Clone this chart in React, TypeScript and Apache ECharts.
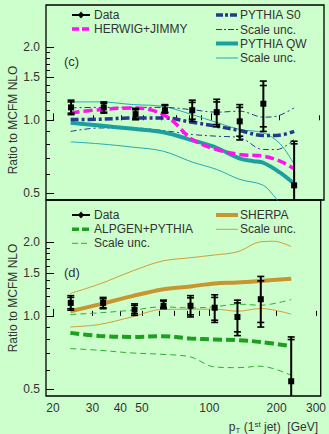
import React, { useEffect, useRef } from "react";
import * as echarts from "echarts";

// ---- data ----
const DATA_X = [24, 33.5, 46.3, 62.4, 82.4, 105.7, 133.6, 169.9, 232.4];
const DATA_Y = [1.13, 1.13, 1.06, 1.1, 1.1, 1.08, 0.99, 1.17, 0.54];
const DATA_LO = [1.055, 1.07, 1.005, 1.07, 0.99, 0.94, 0.83, 0.9, 0.44];
const DATA_HI = [1.21, 1.19, 1.12, 1.16, 1.21, 1.22, 1.16, 1.45, 0.82];
const DATA_LO2 = [1.07, 1.08, 1.02, 1.08, 1.01, 0.96, 0.86, 0.94, 0.4];
const DATA_HI2 = [1.19, 1.175, 1.105, 1.15, 1.185, 1.19, 1.13, 1.39, 0.8];

const S0_X = [23.9, 32.2, 45.2, 61.4, 82.4, 105.6, 133.9, 169.9, 194.8, 232.5];
const S0_Y = [1.007, 1.01, 1.023, 1.023, 0.981, 0.945, 0.907, 0.866, 0.866, 0.901];
const S0_UP = [1.125, 1.13, 1.13, 1.13, 1.105, 1.08, 1.09, 1.03, 1.04, 1.125];
const S0_LO = [0.9, 0.93, 0.93, 0.907, 0.874, 0.86, 0.847, 0.758, 0.758, 0.834];

const QW_X = [23.9, 32.2, 45.2, 61.4, 82.4, 105.6, 133.9, 153.4, 169.9, 201.6, 232.5];
const QW_Y = [0.976, 0.951, 0.922, 0.893, 0.828, 0.771, 0.695, 0.679, 0.669, 0.609, 0.548];
const QWU_X = [23.9, 32.2, 45.2, 61.4, 82.4, 105.6, 133.9, 169.9, 201.6, 232.5];
const QW_UP = [1.19, 1.19, 1.16, 1.14, 1.055, 0.98, 0.916, 0.888, 0.8, 0.659];
const QWL_X = [23.9, 32.2, 45.2, 61.4, 82.4, 105.6, 133.9, 169.9, 194.8, 215];
const QW_LO = [0.815, 0.8, 0.775, 0.746, 0.673, 0.628, 0.571, 0.54, 0.473, 0.43];

const HJ_X = [23.9, 32.2, 45.2, 53.6, 61.4, 67.9, 82.4, 105.6, 133.9, 169.9, 201.6, 232.5];
const HJ_Y = [1.072, 1.106, 1.124, 1.106, 1.055, 0.99, 0.834, 0.758, 0.723, 0.712, 0.679, 0.632];

const D_X = [23.9, 32.2, 45.2, 61.4, 82.4, 105.6, 133.9, 169.9, 232.5];
const SH_Y = [1.045, 1.114, 1.204, 1.283, 1.32, 1.358, 1.37, 1.39, 1.42];
const SHU_X = [23.9, 32.2, 45.2, 61.4, 82.4, 105.6, 133.9, 169.9, 194.8, 232.5];
const SH_UP = [1.235, 1.349, 1.525, 1.675, 1.73, 1.775, 1.83, 2.01, 2.02, 1.92];
const SH_LO = [0.901, 0.922, 0.991, 1.062, 1.065, 1.065, 1.045, 1.072, 1.016];
const AL_Y = [0.852, 0.828, 0.82, 0.826, 0.808, 0.8, 0.795, 0.782, 0.751];
const AL_UP = [1.013, 1.029, 1.055, 1.089, 1.078, 1.089, 1.117, 1.106, 1.167];
const AL_LO = [0.735, 0.723, 0.705, 0.696, 0.679, 0.618, 0.614, 0.622, 0.571];

const X_MINOR_TICKS = [30, 40, 50, 60, 70, 80, 90, 200, 300];
const X_MAJOR_TICKS = [20, 100];
const X_LABELS = [20, 30, 40, 50, 100, 200, 300];
const Y_MINOR_TICKS = [0.6, 0.7, 0.8, 0.9, 1.1, 1.2, 1.3, 1.4, 1.6, 1.7, 1.8, 1.9];
const Y_MAJOR_TICKS = [0.5, 1.0, 1.5, 2.0];

const X_MIN = 18.6;
const X_MAX = 315;
const Y_MIN = 0.47;
const Y_MAX = 2.98;

const lg = (v: number) => Math.log10(v);
const pts = (xs: number[], ys: number[]) => xs.map((x, i) => [lg(x), lg(ys[i])]);

const FONT = "Liberation Sans, Arial, Helvetica, sans-serif";
const TXT = "#333";
const BG = "#ccffcc";
const NAVY = "#27388a";
const TEAL = "#1c9f9f";
const TEAL_THIN = "#25a9b0";
const MAGENTA = "#ff12ee";
const GOLD = "#c99530";
const GOLD_THIN = "#d39c35";
const GREEN = "#1f9f1f";
const GREEN_THIN = "#2fae2f";

export default function App() {
  const ref = useRef<HTMLDivElement>(null);
  useEffect(() => {
    if (!ref.current) return;
    const chart = echarts.init(ref.current, null, { renderer: "svg" });

    const grids = [
      { left: 46, top: 5, right: 5, height: 195 },
      { left: 46, top: 200, right: 5, height: 196 },
    ].map((g) => ({ ...g, show: true, borderColor: "#000", borderWidth: 1.3, backgroundColor: "transparent" }));

    const xAxes: any[] = [];
    const yAxes: any[] = [];
    [0, 1].forEach((gi) => {
      xAxes.push({
        type: "value", gridIndex: gi, position: "bottom", min: lg(X_MIN), max: lg(X_MAX),
        splitLine: { show: false }, axisLine: { show: false },
        axisTick: { show: true, inside: true, length: 5, customValues: X_MINOR_TICKS.map(lg), lineStyle: { color: "#000", width: 1 } },
        axisLabel: gi === 1 ? {
          show: true, customValues: X_LABELS.map(lg), margin: 6, color: TXT, fontSize: 12, fontFamily: FONT,
          formatter: (v: number) => String(Math.round(Math.pow(10, v))),
        } : { show: false },
      });
      xAxes.push({
        type: "value", gridIndex: gi, position: "bottom", min: lg(X_MIN), max: lg(X_MAX),
        splitLine: { show: false }, axisLine: { show: false },
        axisTick: { show: true, inside: true, length: 7, customValues: X_MAJOR_TICKS.map(lg), lineStyle: { color: "#000", width: 1 } },
        axisLabel: { show: false },
      });
      yAxes.push({
        type: "value", gridIndex: gi, position: "left", min: lg(Y_MIN), max: lg(Y_MAX),
        splitLine: { show: false }, axisLine: { show: false },
        axisTick: { show: true, inside: true, length: 4, customValues: Y_MINOR_TICKS.map(lg), lineStyle: { color: "#000", width: 1 } },
        axisLabel: { show: false },
      });
      yAxes.push({
        type: "value", gridIndex: gi, position: "left", min: lg(Y_MIN), max: lg(Y_MAX),
        splitLine: { show: false }, axisLine: { show: false },
        axisTick: { show: true, inside: true, length: 8, customValues: Y_MAJOR_TICKS.map(lg), lineStyle: { color: "#000", width: 1 } },
        axisLabel: {
          show: true, customValues: Y_MAJOR_TICKS.map(lg), margin: 6, color: TXT, fontSize: 12, fontFamily: FONT,
          formatter: (v: number) => Math.pow(10, v).toFixed(1),
        },
      });
    });

    const line = (gi: number, xs: number[], ys: number[], color: string, width: number, type: any, z = 2) => ({
      type: "line", xAxisIndex: gi * 2, yAxisIndex: gi * 2, data: pts(xs, ys),
      showSymbol: false, symbol: "none", smooth: 0.35, clip: true, z,
      lineStyle: { color, width, type },
    });

    const dataSeries = (gi: number) => ({
      type: "custom", xAxisIndex: gi * 2, yAxisIndex: gi * 2, z: 10, clip: true,
      data: DATA_X.map((x, i) => [lg(x), lg(DATA_Y[i]), lg(DATA_LO[i]), lg(DATA_HI[i]), lg(DATA_LO2[i]), lg(DATA_HI2[i])]),
      renderItem: (params: any, api: any) => {
        const cs = params.coordSys;
        const top = cs.y, bot = cs.y + cs.height;
        const p = api.coord([api.value(0), api.value(1)]);
        const x = p[0];
        const yv = (k: number) => api.coord([api.value(0), api.value(k)])[1];
        const yHi = yv(3), yLo = yv(2), yHi2 = yv(5), yLo2 = yv(4);
        const cl = (y: number) => Math.min(bot, Math.max(top, y));
        const st = { stroke: "#000", lineWidth: 1.6 };
        const children: any[] = [
          { type: "line", shape: { x1: x, y1: cl(yHi), x2: x, y2: cl(yLo) }, style: { stroke: "#000", lineWidth: 2 } },
        ];
        [yHi, yLo, yHi2, yLo2].forEach((y) => {
          if (y >= top && y <= bot) children.push({ type: "line", shape: { x1: x - 3.5, y1: y, x2: x + 3.5, y2: y }, style: st });
        });
        if (p[1] >= top && p[1] <= bot) children.push({ type: "rect", shape: { x: x - 3, y: p[1] - 3, width: 6, height: 6 }, style: { fill: "#000" } });
        return { type: "group", children };
      },
    });

    const series: any[] = [
      // panel (c)
      line(0, QWL_X, QW_LO, TEAL_THIN, 1, "solid"),
      line(0, QWU_X, QW_UP, TEAL_THIN, 1, "solid"),
      line(0, S0_X, S0_UP, NAVY, 1, [6, 3, 2, 3]),
      line(0, S0_X, S0_LO, NAVY, 1, [6, 3, 2, 3]),
      line(0, QW_X, QW_Y, TEAL, 4, "solid", 3),
      line(0, S0_X, S0_Y, NAVY, 3.5, [8, 3, 3, 3], 3),
      line(0, HJ_X, HJ_Y, MAGENTA, 3.5, [9, 4], 4),
      dataSeries(0),
      // panel (d)
      line(1, SHU_X, SH_UP, GOLD_THIN, 1, "solid"),
      line(1, D_X, SH_LO, GOLD_THIN, 1, "solid"),
      line(1, D_X, AL_UP, GREEN_THIN, 1, [6, 4]),
      line(1, D_X, AL_LO, GREEN_THIN, 1, [6, 4]),
      line(1, D_X, SH_Y, GOLD, 4, "solid", 3),
      line(1, D_X, AL_Y, GREEN, 4, [9, 4], 3),
      dataSeries(1),
    ];

    const txt = (x: number, y: number, text: string, size = 12) => ({
      type: "text", x, y, style: { text, fill: TXT, font: `${size}px ${FONT}`, textVerticalAlign: "middle", verticalAlign: "middle" },
    });
    const lg_line = (x1: number, x2: number, y: number, stroke: string, lineWidth: number, lineDash?: number[]) => ({
      type: "line", shape: { x1, y1: y, x2, y2: y }, style: { stroke, lineWidth, lineDash },
    });
    const dataIcon = (y: number) => [
      lg_line(72, 90, y, "#000", 2),
      { type: "polygon", shape: { points: [[81, y - 3.5], [84, y], [81, y + 3.5], [78, y]] }, style: { fill: "#000" } },
    ];

    const graphic: any[] = [
      // panel c legend
      ...dataIcon(15), txt(94, 15, "Data"),
      lg_line(72, 90, 29, MAGENTA, 3.5, [7, 3]), txt(94, 29, "HERWIG+JIMMY"),
      lg_line(216, 238, 15, NAVY, 3.5, [7, 2, 3, 2]), txt(240, 15, "PYTHIA S0"),
      lg_line(216, 238, 29.5, NAVY, 1, [6, 2, 2, 2]), txt(240, 29.5, "Scale unc."),
      lg_line(216, 238, 43.5, TEAL, 4), txt(240, 43.5, "PYTHIA QW"),
      lg_line(216, 238, 58, TEAL_THIN, 1), txt(240, 58, "Scale unc."),
      txt(64, 61, "(c)", 13),
      // panel d legend
      ...dataIcon(215), txt(94, 215, "Data"),
      lg_line(72, 90, 229.3, GREEN, 3.5, [7, 3]), txt(94, 229.3, "ALPGEN+PYTHIA"),
      lg_line(72, 90, 243.3, GREEN_THIN, 1, [6, 3]), txt(94, 243.3, "Scale unc."),
      lg_line(216, 238, 215, GOLD, 4), txt(240, 215, "SHERPA"),
      lg_line(216, 238, 229.3, GOLD_THIN, 1), txt(240, 229.3, "Scale unc."),
      txt(64, 272, "(d)", 13),
      // y titles
      {
        type: "text", x: 13, y: 120, rotation: Math.PI / 2,
        style: { text: "Ratio to MCFM NLO", fill: TXT, font: `12px ${FONT}`, align: "center", verticalAlign: "middle" },
      },
      {
        type: "text", x: 13, y: 298, rotation: Math.PI / 2,
        style: { text: "Ratio to MCFM NLO", fill: TXT, font: `12px ${FONT}`, align: "center", verticalAlign: "middle" },
      },
      // x title
      {
        type: "text", x: 318, y: 427,
        style: {
          text: "p{sub|T} (1{sup|st} jet)  [GeV]", fill: TXT, font: `12px ${FONT}`, align: "right", verticalAlign: "middle",
          rich: {
            sub: { fontSize: 8, fontFamily: FONT, fill: TXT, verticalAlign: "bottom", padding: [6, 0, 0, 0] },
            sup: { fontSize: 8, fontFamily: FONT, fill: TXT, verticalAlign: "top", padding: [0, 0, 6, 0] },
          },
        },
      },
    ];

    chart.setOption({
      animation: false,
      backgroundColor: BG,
      grid: grids,
      xAxis: xAxes,
      yAxis: yAxes,
      series,
      graphic,
    });
    return () => chart.dispose();
  }, []);
  return <div ref={ref} style={{ position: "fixed", left: 0, top: 0, width: 329, height: 434, background: BG }} />;
}
